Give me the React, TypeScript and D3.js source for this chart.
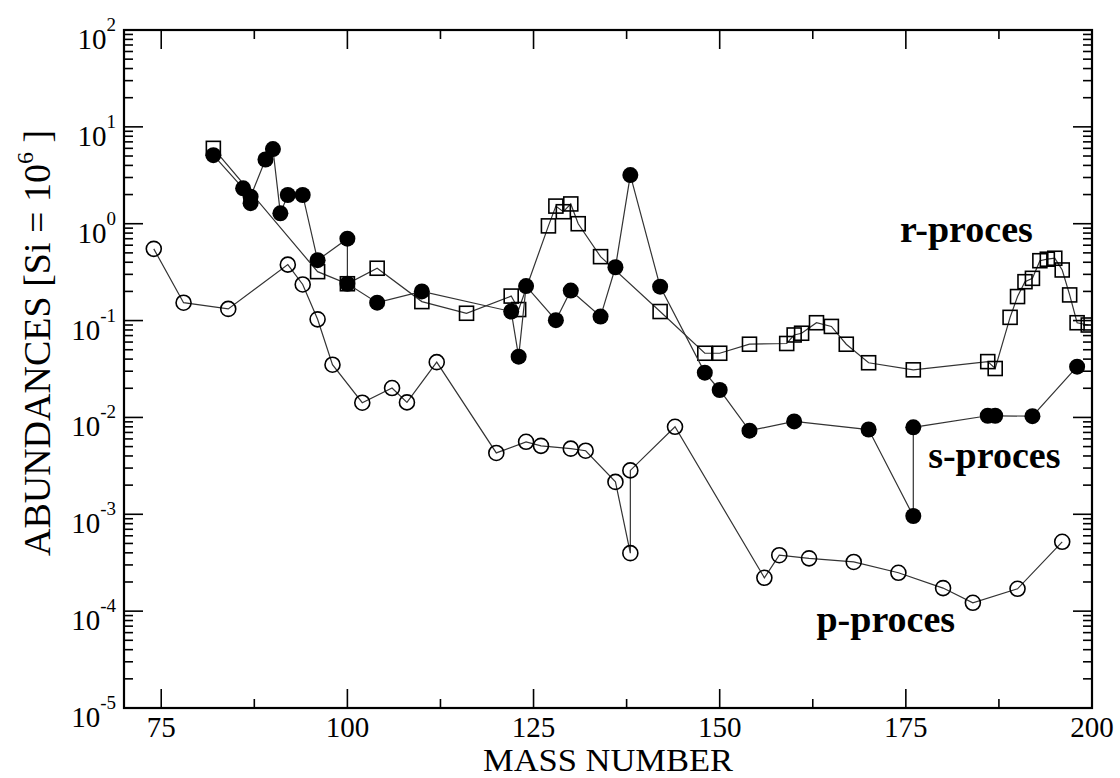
import React from "react";
import * as d3 from "d3";

// ---- data (mass number A, abundance relative to Si = 1e6) ----
const pMass = [74, 78, 84, 92, 94, 96, 98, 102, 106, 108, 112, 120, 124, 126, 130, 132, 136, 138, 138, 144, 156, 158, 162, 168, 174, 180, 184, 190, 196];
const pAbund = [0.55, 0.153, 0.132, 0.378, 0.236, 0.103, 0.035, 0.0142, 0.0201, 0.0143, 0.0372, 0.0043, 0.0056, 0.00509, 0.00476, 0.00453, 0.00216, 0.000397, 0.00284, 0.008, 0.000221, 0.000378, 0.000351, 0.000322, 0.000249, 0.000173, 0.000122, 0.00017, 0.00052];

const sMass = [82, 86, 87, 87, 89, 90, 91, 92, 94, 96, 100, 100, 104, 110, 122, 123, 124, 128, 130, 134, 136, 138, 142, 148, 150, 154, 160, 170, 176, 176, 186, 187, 192, 198];
const sAbund = [5.1, 2.32, 1.63, 1.9, 4.6, 5.9, 1.28, 1.98, 1.98, 0.42, 0.7, 0.24, 0.153, 0.2, 0.124, 0.0424, 0.227, 0.101, 0.204, 0.11, 0.355, 3.18, 0.224, 0.029, 0.0192, 0.0073, 0.0091, 0.0075, 0.00096, 0.0079, 0.0104, 0.0104, 0.0103, 0.0334];

const rMass = [82, 96, 100, 104, 110, 116, 122, 123, 127, 128, 129, 130, 131, 134, 142, 148, 150, 154, 159, 160, 161, 163, 165, 167, 170, 176, 186, 187, 189, 190, 191, 192, 193, 194, 195, 196, 197, 198, 199.5];
const rAbund = [6.0, 0.32, 0.24, 0.347, 0.157, 0.119, 0.179, 0.13, 0.95, 1.52, 1.33, 1.6, 1.0, 0.457, 0.124, 0.046, 0.046, 0.057, 0.058, 0.071, 0.074, 0.095, 0.087, 0.057, 0.0367, 0.031, 0.0377, 0.032, 0.108, 0.177, 0.252, 0.273, 0.415, 0.43, 0.44, 0.333, 0.184, 0.095, 0.09];

const xMajorTicks = [75, 100, 125, 150, 175, 200];
const xMinorTicks = [87.5, 112.5, 137.5, 162.5, 187.5];
const yExponents = [-5, -4, -3, -2, -1, 0, 1, 2];

const seriesLabels = [
  { text: "r-proces", mass: 174.2, value: 0.647 },
  { text: "s-proces", mass: 178.0, value: 0.003 },
  { text: "p-proces", mass: 163.0, value: 0.0000609 },
];

const W = 1120;
const H = 778;
const L = 124, R = 1092, T = 30, B = 708;

export default function App() {
  const x = d3.scaleLinear().domain([70, 200]).range([L, R]);
  const y = d3.scaleLog().domain([1e-5, 1e2]).range([B, T]);

  const line = d3.line<[number, number]>().x((d) => x(d[0])).y((d) => y(d[1]));
  const zip = (a: number[], b: number[]) => a.map((v, i) => [v, b[i]] as [number, number]);
  const pData = zip(pMass, pAbund);
  const sData = zip(sMass, sAbund);
  const rData = zip(rMass, rAbund);

  const yMinor: number[] = [];
  yExponents.slice(0, -1).forEach((e) => {
    for (let m = 2; m <= 9; m++) yMinor.push(m * Math.pow(10, e));
  });

  const font = "'Liberation Serif', 'Times New Roman', serif";
  const lineColor = "#333";
  const majorLen = 19, minorLen = 9;

  return (
    <svg width={W} height={H} style={{ position: "absolute", left: 0, top: 0, background: "#fff" }} fontFamily={font}>
      <defs>
        <clipPath id="plotclip">
          <rect x={L} y={T} width={R - L} height={B - T} />
        </clipPath>
      </defs>
      <rect x={0} y={0} width={W} height={H} fill="#fff" />

      <g clipPath="url(#plotclip)">
        {/* p-process */}
        <path d={line(pData) || ""} fill="none" stroke={lineColor} strokeWidth={1.2} />
        {pData.map((d, i) => (
          <circle key={"p" + i} cx={x(d[0])} cy={y(d[1])} r={7.5} fill="none" stroke="#000" strokeWidth={1.6} />
        ))}
        {/* r-process */}
        <path d={line(rData) || ""} fill="none" stroke={lineColor} strokeWidth={1.2} />
        {rData.map((d, i) => (
          <rect key={"r" + i} x={x(d[0]) - 7} y={y(d[1]) - 7} width={14} height={14} fill="none" stroke="#000" strokeWidth={1.6} />
        ))}
        {/* s-process */}
        <path d={line(sData) || ""} fill="none" stroke={lineColor} strokeWidth={1.2} />
        {sData.map((d, i) => (
          <circle key={"s" + i} cx={x(d[0])} cy={y(d[1])} r={8} fill="#000" />
        ))}
      </g>

      {/* ticks */}
      <g stroke="#000" strokeWidth={1.6}>
        {xMajorTicks.map((t) => (
          <g key={"xM" + t}>
            <line x1={x(t)} x2={x(t)} y1={B} y2={B - majorLen} />
            <line x1={x(t)} x2={x(t)} y1={T} y2={T + majorLen} />
          </g>
        ))}
        {xMinorTicks.map((t) => (
          <g key={"xm" + t}>
            <line x1={x(t)} x2={x(t)} y1={B} y2={B - minorLen} />
            <line x1={x(t)} x2={x(t)} y1={T} y2={T + minorLen} />
          </g>
        ))}
        {yExponents.map((e) => {
          const v = Math.pow(10, e);
          return (
            <g key={"yM" + e}>
              <line x1={L} x2={L + majorLen} y1={y(v)} y2={y(v)} />
              <line x1={R} x2={R - majorLen} y1={y(v)} y2={y(v)} />
            </g>
          );
        })}
        {yMinor.map((v, i) => (
          <g key={"ym" + i}>
            <line x1={L} x2={L + minorLen} y1={y(v)} y2={y(v)} />
            <line x1={R} x2={R - minorLen} y1={y(v)} y2={y(v)} />
          </g>
        ))}
      </g>

      {/* frame */}
      <rect x={L} y={T} width={R - L} height={B - T} fill="none" stroke="#000" strokeWidth={2.2} />

      {/* tick labels */}
      {xMajorTicks.map((t) => (
        <text key={"xl" + t} x={x(t)} y={B + 29} textAnchor="middle" fontSize={29} fill="#000">
          {t}
        </text>
      ))}
      {yExponents.map((e) => (
        <text key={"yl" + e} x={116} y={y(Math.pow(10, e)) + 19} textAnchor="end" fontSize={29} fill="#000">
          10
          <tspan fontSize={19} dy={-18}>{e}</tspan>
        </text>
      ))}

      {/* axis titles */}
      <text x={(L + R) / 2 - 125} y={771} fontSize={30.5} fill="#000" textLength={250} lengthAdjust="spacingAndGlyphs">
        MASS NUMBER
      </text>
      <text transform={`translate(50, 343) rotate(-90)`} textAnchor="middle" fontSize={38} fill="#000">
        ABUNDANCES [Si = 10
        <tspan fontSize={24} dy={-17}>6</tspan>
        <tspan dy={17}> ]</tspan>
      </text>

      {/* series labels */}
      {seriesLabels.map((s) => (
        <text key={s.text} x={x(s.mass)} y={y(s.value)} fontSize={38} fontWeight="bold" fill="#000">
          {s.text}
        </text>
      ))}
    </svg>
  );
}
